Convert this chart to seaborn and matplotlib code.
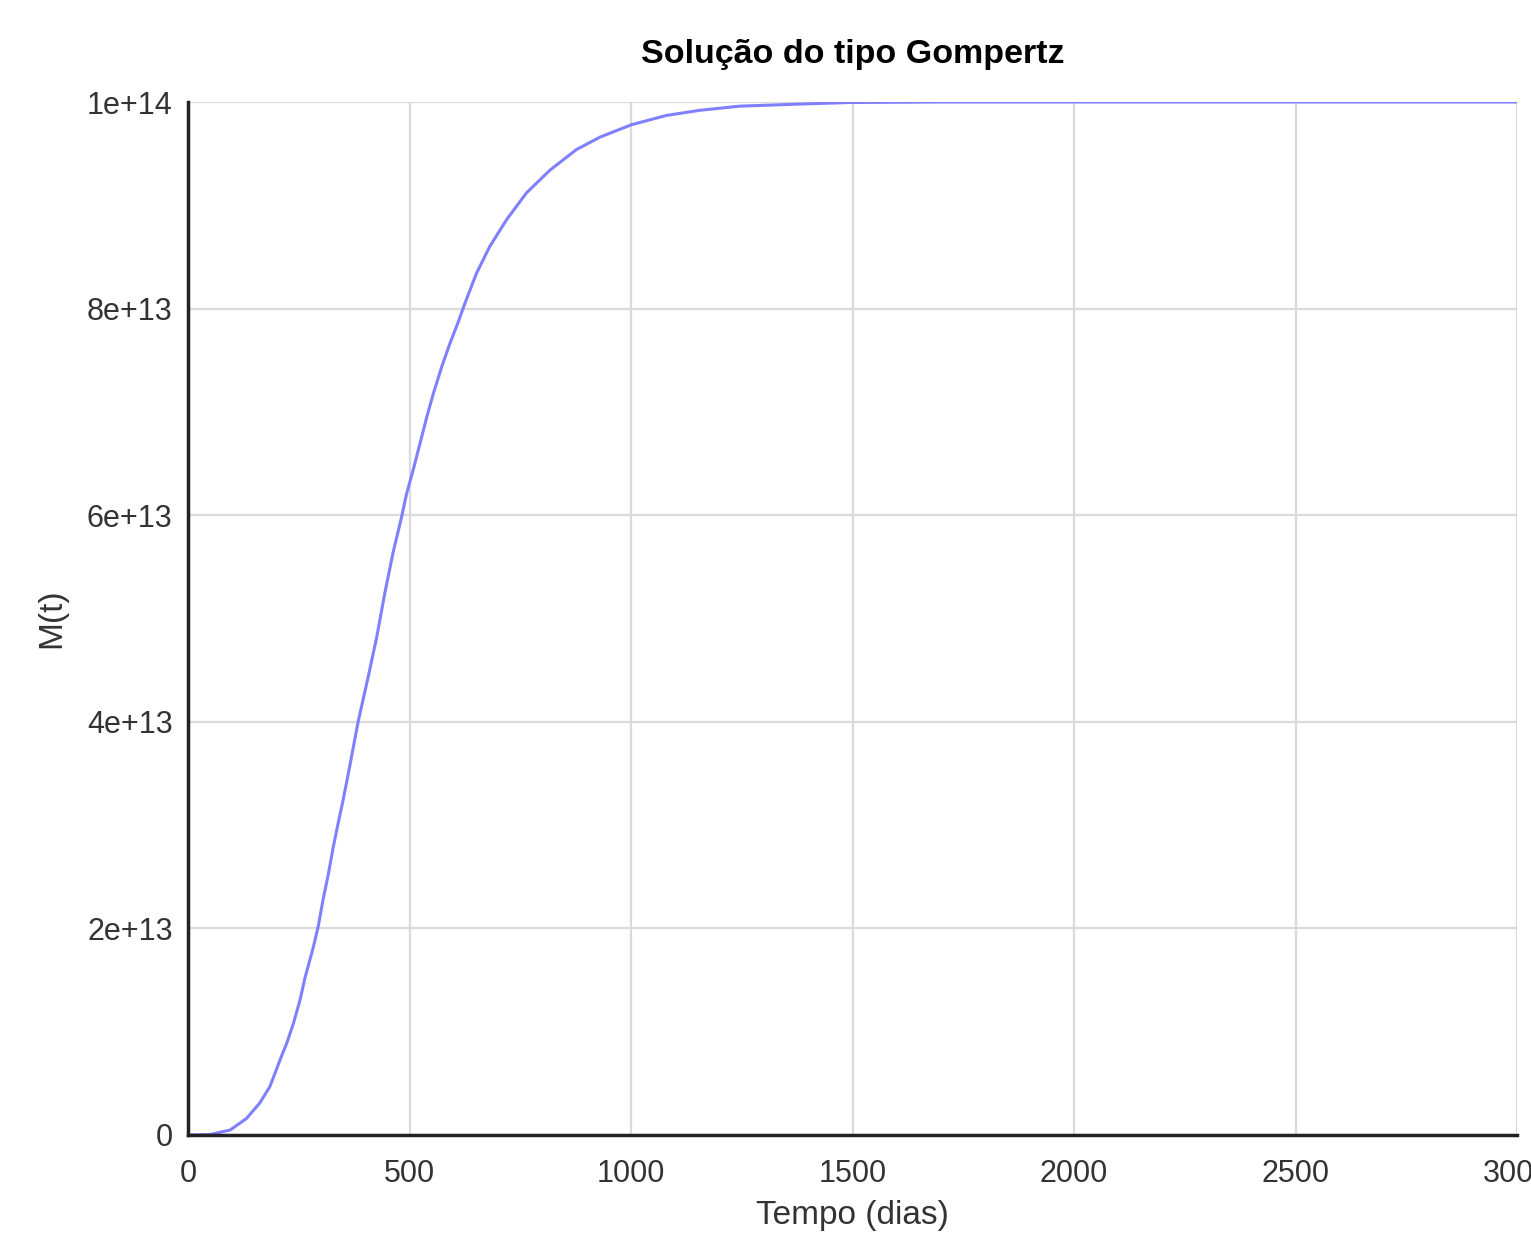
import numpy as np
import pandas as pd
import matplotlib
matplotlib.use("Agg")
import matplotlib.pyplot as plt
import seaborn as sns

# Values (time in days, M in units of 1e13)
tempo = [0, 50, 95, 132, 162, 185, 208, 223, 238, 253, 264, 283, 294, 305,
         317, 328, 339, 350, 362, 384, 407, 426, 444, 463, 482, 493, 509,
         524, 539, 554, 573, 591, 610, 625, 651, 681, 719, 764, 817, 877,
         930, 1001, 1080, 1156, 1246, 1381, 1494, 1700, 2000, 2500, 3000]
massa_1e13 = [0, 0.005, 0.048, 0.16, 0.31, 0.47, 0.73, 0.89, 1.08, 1.31, 1.52,
              1.82, 2.02, 2.28, 2.53, 2.79, 3.02, 3.24, 3.50, 4.0, 4.44, 4.82,
              5.24, 5.64, 5.98, 6.2, 6.45, 6.70, 6.95, 7.18, 7.44, 7.66, 7.87,
              8.05, 8.34, 8.6, 8.86, 9.12, 9.34, 9.54, 9.66, 9.78, 9.87, 9.92,
              9.96, 9.98, 9.995, 10, 10, 10, 10]

x_ticks = [0, 500, 1000, 1500, 2000, 2500, 3000]
y_ticks = [0, 2e13, 4e13, 6e13, 8e13, 1e14]
y_tick_labels = ["0", "2e+13", "4e+13", "6e+13", "8e+13", "1e+14"]

df = pd.DataFrame({"Tempo": tempo, "M": np.array(massa_1e13) * 1e13})

sns.set_theme(style="whitegrid")
plt.rcParams['font.family'] = ['Liberation Sans', 'DejaVu Sans']

fig = plt.figure(figsize=(15.31, 12.34), dpi=100)
ax = fig.add_axes([188 / 1531, 99 / 1234, (1517 - 188) / 1531, (1135 - 102) / 1234])

sns.lineplot(data=df, x="Tempo", y="M", ax=ax, color="#8080ff", linewidth=2.2)

ax.set_xlim(0, 3000)
ax.set_ylim(0, 1e14)
ax.set_xticks(x_ticks)
ax.set_yticks(y_ticks)
ax.set_yticklabels(y_tick_labels)

# grid and axes look
ax.grid(True, color="#dadada", linewidth=1.6)
ax.set_facecolor("white")
for side in ["top", "right"]:
    ax.spines[side].set_visible(False)
for side in ["left", "bottom"]:
    ax.spines[side].set_visible(True)
    ax.spines[side].set_color("#222222")
    ax.spines[side].set_linewidth(2.5)

ax.tick_params(axis="both", direction="in", length=8, width=1.5,
               colors="#222222", labelcolor="#333333", labelsize=22)
ax.tick_params(axis="x", pad=17)
ax.tick_params(axis="y", pad=11)

ax.set_title("Solução do tipo Gompertz", fontsize=24.5, fontweight="bold",
             color="black", pad=28)
ax.set_xlabel("Tempo (dias)", fontsize=24, color="#333333", labelpad=8)
ax.set_ylabel("M(t)", fontsize=24, color="#333333", labelpad=14)

fig.savefig("out.png", dpi=100)
